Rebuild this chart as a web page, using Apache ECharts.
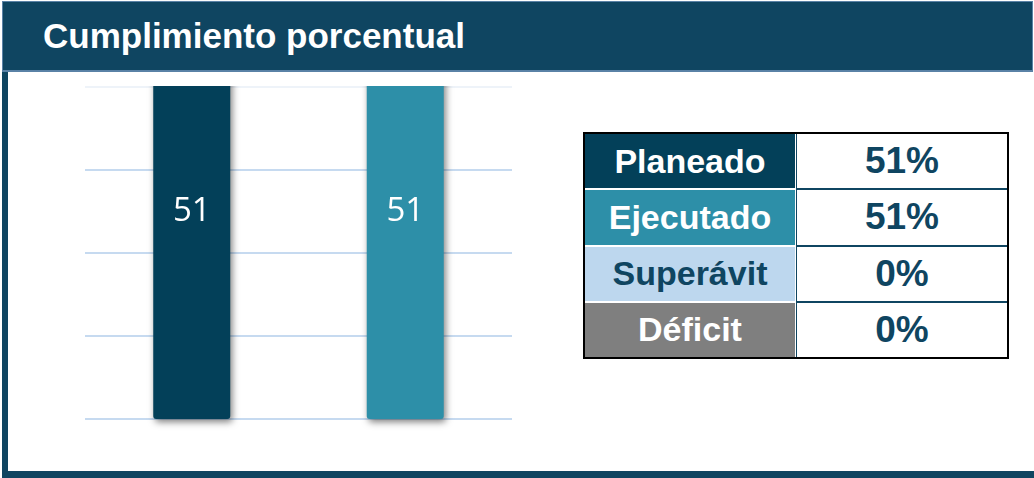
<!DOCTYPE html>
<html lang="es">
  <head>
    <meta charset="UTF-8" />
    <title>Cumplimiento porcentual</title>
    <script src="https://cdn.jsdelivr.net/npm/echarts@6/dist/echarts.min.js"></script>
    <style>
      html, body {
        margin: 0;
        padding: 0;
        background: #ffffff;
      }
      .page {
        position: relative;
        width: 1034px;
        height: 478px;
        overflow: hidden;
        font-family: 'Liberation Sans', Arial, sans-serif;
      }
      #barChart {
        position: absolute;
        left: 0;
        top: 0;
        width: 1034px;
        height: 478px;
      }
      /* marco */
      .frame-left {
        position: absolute;
        left: 2px;
        top: 60px;
        width: 6px;
        height: 418px;
        background: #0f4561;
      }
      .frame-bottom {
        position: absolute;
        left: 2px;
        top: 471px;
        width: 1032px;
        height: 7px;
        background: #0f4561;
      }
      /* el área del gráfico empieza debajo del encabezado */
      .plot-mask {
        position: absolute;
        left: 8px;
        top: 70px;
        width: 560px;
        height: 16px;
        background: #ffffff;
      }
      .header {
        position: absolute;
        left: 2px;
        top: 1px;
        width: 1029px;
        height: 68px;
        background: #0f4561;
        border: 1px solid #5a82a6;
        border-bottom-width: 2px;
      }
      .header h1 {
        position: absolute;
        left: 40px;
        top: 14px;
        margin: 0;
        font-size: 35px;
        line-height: 40px;
        font-weight: 700;
        color: #ffffff;
        white-space: nowrap;
      }
      /* tabla */
      .summary {
        position: absolute;
        left: 583px;
        top: 132px;
        width: 426px;
        height: 227px;
        box-sizing: border-box;
        border: 2px solid #000000;
        display: grid;
        grid-template-columns: 210px 1fr;
        grid-template-rows: repeat(4, 1fr);
        gap: 2px;
        background: linear-gradient(to right, #ffffff 211px, #0f4561 211px);
      }
      .summary div {
        display: flex;
        align-items: center;
        justify-content: center;
        font-weight: 700;
      }
      .summary .lbl {
        font-size: 34px;
      }
      .summary .val {
        font-size: 37px;
        background: #ffffff;
        color: #0f4561;
      }
    </style>
  </head>
  <body>
    <div class="page">
      <div id="barChart"></div>
      <div class="plot-mask"></div>
      <div class="frame-left"></div>
      <div class="frame-bottom"></div>
      <div class="header"><h1>Cumplimiento porcentual</h1></div>
      <div class="summary" id="summary"></div>
    </div>
    <script>
      // datos
      var barCategories = ['Planeado', 'Ejecutado'];
      var barValues = [51, 51];
      var barColors = ['#034059', '#2d8fa8'];

      var tableLabels = ['Planeado', 'Ejecutado', 'Superávit', 'Déficit'];
      var tableValues = [51, 51, 0, 0];
      var tableFill = ['#034059', '#2d8fa8', '#bdd7ee', '#7f7f7f'];
      var tableText = ['#ffffff', '#ffffff', '#0f4561', '#ffffff'];

      buildTable();
      barChart();

      function buildTable() {
        var box = document.getElementById('summary');
        var html = '';
        for (var i = 0; i < tableLabels.length; i++) {
          html += '<div class="lbl" style="background:' + tableFill[i] + ';color:' + tableText[i] + '">' + tableLabels[i] + '</div>';
          html += '<div class="val">' + tableValues[i] + '%</div>';
        }
        box.innerHTML = html;
      }

      function barChart() {
        var chart = echarts.init(document.getElementById('barChart'));

        var chartData = barValues.map(function (v, i) {
          return { value: v, itemStyle: { color: barColors[i] } };
        });

        var gridColor = '#c6daf0';

        chart.setOption({
          animation: false,
          grid: {
            left: 85,
            width: 427,
            top: 4,
            bottom: 59
          },
          xAxis: {
            type: 'category',
            data: barCategories,
            axisLine: { show: false },
            axisTick: { show: false },
            axisLabel: { show: false }
          },
          yAxis: {
            type: 'value',
            min: 0,
            max: 50,
            interval: 10,
            axisLine: { show: false },
            axisTick: { show: false },
            axisLabel: { show: false },
            splitLine: {
              show: true,
              lineStyle: {
                color: [gridColor, gridColor, gridColor, gridColor, '#eef3f9', gridColor],
                width: 2
              }
            }
          },
          series: [
            {
              type: 'bar',
              barWidth: 77,
              clip: true,
              itemStyle: {
                borderRadius: [0, 0, 3, 3],
                shadowBlur: 7,
                shadowOffsetX: 2,
                shadowOffsetY: 3,
                shadowColor: 'rgba(0,0,0,0.5)'
              },
              label: {
                show: true,
                position: 'inside',
                color: '#ffffff',
                fontSize: 33,
                fontFamily: 'Open Sans'
              },
              data: chartData
            }
          ]
        });
      }
    </script>
  </body>
</html>
